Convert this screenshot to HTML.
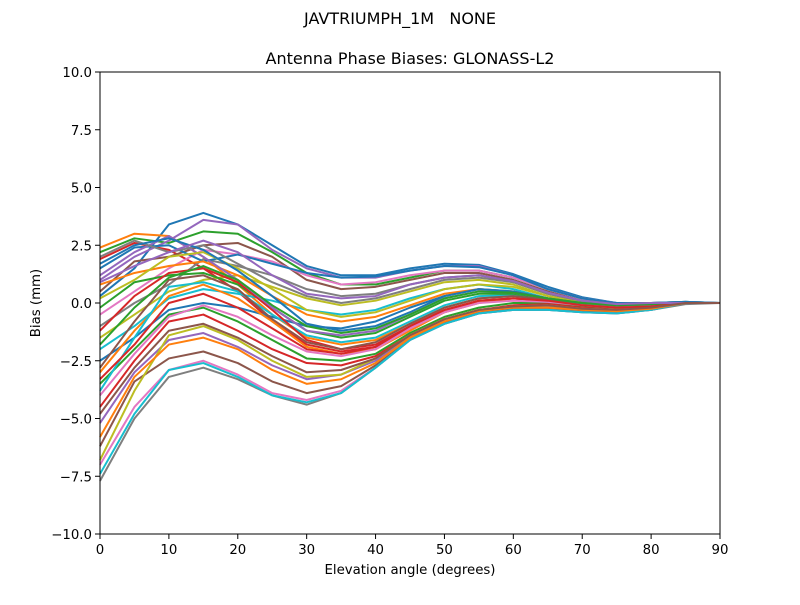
<!DOCTYPE html>
<html><head><meta charset="utf-8"><style>
body{margin:0;background:#fff;}
svg text{font-family:"DejaVu Sans","Liberation Sans",sans-serif;fill:#000;}
</style></head><body>
<svg id="chart" width="800" height="600" viewBox="0 0 800 600">
<text x="400" y="24" font-size="16" text-anchor="middle" style="white-space:pre">JAVTRIUMPH_1M&#160;&#160;&#160;NONE</text>
<text x="410" y="64" font-size="16" text-anchor="middle">Antenna Phase Biases: GLONASS-L2</text>
<g id="lines"></g>
<rect x="100" y="72" width="620" height="462" fill="none" stroke="#000" stroke-width="1"/>
<g id="ticks"></g>
<text x="410" y="574" font-size="13.3" text-anchor="middle">Elevation angle (degrees)</text>
<text x="40" y="303" font-size="13.3" text-anchor="middle" transform="rotate(-90 40 303)">Bias (mm)</text>
</svg>
<script>
const elevations=[0,5,10,15,20,25,30,35,40,45,50,55,60,65,70,75,80,85,90];
const xTicks=[0,10,20,30,40,50,60,70,80,90];
const yTicks=[-10,-7.5,-5,-2.5,0,2.5,5,7.5,10];
const s1=[0.3,1.5,3.4,3.9,3.4,2.5,1.6,1.2,1.2,1.5,1.7,1.65,1.25,0.7,0.25,0,0,0.05,0];
const s2=[2.4,3.0,2.9,2.0,0.8,-0.5,-1.5,-1.8,-1.6,-0.9,-0.2,0.2,0.3,0.2,0,-0.1,-0.1,0,0];
const s3=[2.2,2.8,2.6,3.1,3.0,2.2,1.3,0.8,0.8,1.1,1.4,1.4,1.1,0.6,0.2,-0.05,0,0.05,0];
const s4=[1.9,2.6,2.3,1.5,0.5,-0.8,-1.8,-2.1,-1.9,-1.1,-0.4,0.1,0.2,0.1,-0.05,-0.1,-0.1,0,0];
const s5=[1.0,2.0,2.7,3.6,3.4,2.3,1.5,1.1,1.1,1.4,1.6,1.6,1.2,0.6,0.2,-0.05,0,0.05,0];
const s6=[0.5,1.8,2.0,2.5,2.6,2.0,1.0,0.6,0.7,1.0,1.3,1.3,1.0,0.5,0.1,-0.1,0,0,0];
const s7=[-0.5,0.5,1.5,2.3,2.1,1.8,1.2,0.8,0.9,1.2,1.4,1.4,1.1,0.6,0.2,0,0,0,0];
const s8=[-1.0,0.0,0.8,1.9,1.6,1.2,0.6,0.3,0.4,0.8,1.1,1.2,0.9,0.4,0.05,-0.1,-0.05,0,0];
const s9=[-1.5,-0.5,0.5,1.0,1.2,0.7,0.2,-0.1,0.1,0.5,0.9,1.0,0.8,0.3,0,-0.1,-0.05,0,0];
const s10=[-2.0,-1.0,0.2,0.6,0.4,0.1,-0.3,-0.5,-0.3,0.2,0.6,0.8,0.6,0.2,-0.05,-0.15,-0.1,0,0];
const s11=[-2.5,-1.5,-0.3,0.0,-0.2,-0.6,-1.0,-1.1,-0.8,-0.2,0.3,0.6,0.5,0.2,-0.05,-0.2,-0.1,0,0];
const s12=[-3.0,-1.2,0.3,0.8,0.2,-0.8,-1.9,-2.2,-2.0,-1.2,-0.4,0.0,0.2,0.1,-0.1,-0.2,-0.15,0,0];
const s13=[-3.5,-2.0,-0.5,-0.2,-0.8,-1.6,-2.4,-2.5,-2.2,-1.3,-0.6,-0.2,0.0,0.0,-0.15,-0.25,-0.2,0,0];
const s14=[-4.5,-2.5,-0.8,-0.5,-1.2,-2.0,-2.6,-2.7,-2.3,-1.4,-0.7,-0.3,-0.1,-0.05,-0.2,-0.3,-0.2,0,0];
const s15=[-5.2,-3.0,-1.6,-1.3,-1.9,-2.7,-3.3,-3.1,-2.5,-1.5,-0.8,-0.35,-0.2,-0.15,-0.25,-0.35,-0.25,0,0];
const s16=[-6.2,-3.4,-2.4,-2.1,-2.6,-3.4,-3.9,-3.6,-2.7,-1.6,-0.85,-0.4,-0.25,-0.25,-0.35,-0.4,-0.3,0,0];
const s17=[-7.0,-4.5,-2.9,-2.5,-3.1,-3.9,-4.2,-3.8,-2.8,-1.6,-0.9,-0.45,-0.3,-0.3,-0.4,-0.45,-0.3,0,0];
const s18=[-7.7,-5.0,-3.2,-2.8,-3.3,-4.0,-4.4,-3.9,-2.8,-1.6,-0.9,-0.45,-0.3,-0.3,-0.4,-0.45,-0.3,-0.05,0];
const s19=[-6.8,-3.8,-1.4,-1.0,-1.6,-2.5,-3.2,-3.1,-2.4,-1.4,-0.7,-0.3,-0.15,-0.1,-0.25,-0.3,-0.2,0,0];
const s20=[-3.8,-1.5,0.7,0.9,0.5,-0.5,-1.4,-1.7,-1.5,-0.8,-0.1,0.3,0.35,0.2,0,-0.1,-0.1,0,0];
const s21=[1.5,2.4,2.5,1.8,2.1,1.7,1.3,1.1,1.15,1.4,1.6,1.55,1.2,0.6,0.2,0,0,0.05,0];
const s22=[0.8,1.3,1.6,1.8,1.2,0.3,-0.5,-0.8,-0.6,-0.1,0.4,0.6,0.5,0.2,0,-0.1,-0.05,0,0];
const s23=[-0.2,0.9,1.2,1.3,0.8,-0.2,-1.2,-1.5,-1.3,-0.6,0.1,0.4,0.4,0.2,0,-0.1,-0.05,0,0];
const s24=[-1.2,0.3,1.3,1.5,0.9,-0.3,-1.6,-2.0,-1.8,-1.0,-0.3,0.1,0.2,0.1,-0.05,-0.15,-0.1,0,0];
const s25=[1.2,2.2,2.9,2.0,1.0,-0.2,-1.2,-1.4,-1.2,-0.5,0.2,0.5,0.45,0.2,0,-0.1,-0.05,0,0];
const s26=[-2.8,-0.8,1.0,1.2,0.6,-0.7,-1.7,-2.0,-1.7,-0.9,-0.2,0.2,0.3,0.15,-0.05,-0.15,-0.1,0,0];
const s27=[-4.0,-2.2,-0.6,-0.1,-0.6,-1.4,-2.1,-2.3,-2.0,-1.1,-0.4,0.0,0.1,0.05,-0.1,-0.2,-0.15,0,0];
const s28=[2.0,2.7,2.2,2.5,1.7,0.9,0.3,0.0,0.2,0.6,1.0,1.1,0.9,0.4,0.1,-0.05,0,0,0];
const s29=[0.2,1.0,2.0,2.2,1.5,0.6,-0.3,-0.6,-0.4,0.1,0.6,0.8,0.7,0.3,0,-0.1,-0.05,0,0];
const s30=[-7.4,-4.8,-2.9,-2.6,-3.2,-4.0,-4.3,-3.9,-2.8,-1.6,-0.9,-0.45,-0.3,-0.3,-0.4,-0.45,-0.3,0,0];
const s31=[1.7,2.5,2.8,2.3,1.4,0.3,-0.9,-1.2,-1.0,-0.4,0.3,0.6,0.5,0.2,0,-0.1,-0.05,0,0];
const s32=[-5.8,-3.2,-1.8,-1.5,-2.0,-2.9,-3.5,-3.3,-2.6,-1.5,-0.8,-0.35,-0.2,-0.2,-0.3,-0.35,-0.25,0,0];
const s33=[-1.8,-0.2,1.1,1.6,1.0,-0.1,-1.0,-1.3,-1.1,-0.5,0.2,0.5,0.45,0.2,0,-0.1,-0.05,0,0];
const s34=[-3.3,-1.8,0.0,0.4,-0.2,-1.1,-2.0,-2.2,-1.9,-1.0,-0.3,0.1,0.2,0.1,-0.1,-0.2,-0.15,0,0];
const s35=[0.9,1.6,2.2,2.7,2.2,1.2,0.4,0.2,0.3,0.8,1.1,1.2,0.95,0.45,0.1,-0.05,0,0,0];
const s36=[-4.8,-2.8,-1.2,-0.9,-1.5,-2.3,-3.0,-2.9,-2.4,-1.4,-0.7,-0.3,-0.15,-0.1,-0.25,-0.3,-0.2,0,0];
const seriesList=[s1,s2,s3,s4,s5,s6,s7,s8,s9,s10,s11,s12,s13,s14,s15,s16,s17,s18,s19,s20,s21,s22,s23,s24,s25,s26,s27,s28,s29,s30,s31,s32,s33,s34,s35,s36];
const colors=["#1f77b4","#ff7f0e","#2ca02c","#d62728","#9467bd","#8c564b","#e377c2","#7f7f7f","#bcbd22","#17becf"];
const NS="http://www.w3.org/2000/svg";
const X0=100,X1=720,Y0=534,Y1=72;
function xs(v){return X0+(v-0)/(90-0)*(X1-X0);}
function ys(v){return Y0-(v+10)/20*(Y0-Y1);}
const lg=document.getElementById('lines');
seriesList.forEach((s,i)=>{
  const p=document.createElementNS(NS,'polyline');
  p.setAttribute('points',s.map((v,j)=>xs(elevations[j]).toFixed(2)+','+ys(v).toFixed(2)).join(' '));
  p.setAttribute('fill','none');
  p.setAttribute('stroke',colors[i%10]);
  p.setAttribute('stroke-width','2');
  p.setAttribute('stroke-linejoin','round');
  
  
  lg.appendChild(p);
});
const tg=document.getElementById('ticks');
xTicks.forEach(t=>{
  const l=document.createElementNS(NS,'line');
  l.setAttribute('x1',xs(t));l.setAttribute('x2',xs(t));l.setAttribute('y1',Y0);l.setAttribute('y2',Y0+5);
  l.setAttribute('stroke','#000');
  
  
  tg.appendChild(l);
  const tx=document.createElementNS(NS,'text');
  tx.setAttribute('x',xs(t));tx.setAttribute('y',Y0+20);tx.setAttribute('font-size','13.3');tx.setAttribute('text-anchor','middle');
  tx.textContent=String(t);
  
  
  tg.appendChild(tx);
});
yTicks.forEach(t=>{
  const l=document.createElementNS(NS,'line');
  l.setAttribute('x1',X0-5);l.setAttribute('x2',X0);l.setAttribute('y1',ys(t));l.setAttribute('y2',ys(t));
  l.setAttribute('stroke','#000');
  
  
  tg.appendChild(l);
  const tx=document.createElementNS(NS,'text');
  tx.setAttribute('x',X0-8);tx.setAttribute('y',ys(t)+5);tx.setAttribute('font-size','13.3');tx.setAttribute('text-anchor','end');
  tx.textContent=(t<0?'\u2212':'')+Math.abs(t).toFixed(1);
  
  
  tg.appendChild(tx);
});
</script>
</body></html>
